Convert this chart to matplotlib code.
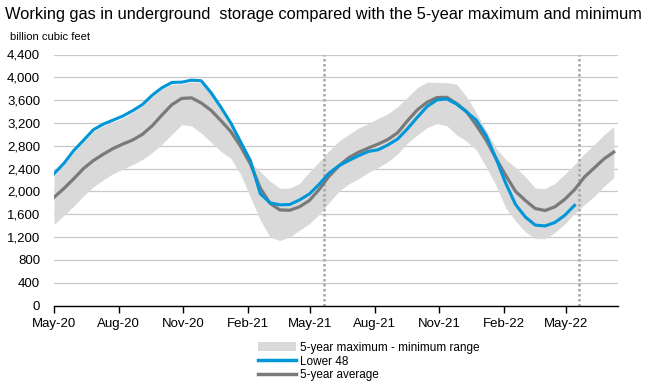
import matplotlib
matplotlib.use('Agg')
import matplotlib.pyplot as plt
import matplotlib.dates as mdates
from matplotlib.patches import Patch
from matplotlib.lines import Line2D
import pandas as pd

plt.rcParams['font.family'] = ['Liberation Sans', 'DejaVu Sans']

# ---- Data (billion cubic feet), biweekly from 1 May 2020 ----
dates = pd.date_range('2020-05-01', periods=58, freq='14D')

lower48 = [2310, 2490, 2714, 2895, 3080, 3178, 3249, 3320, 3414, 3522,
           3686, 3818, 3910, 3915, 3950, 3939, 3728, 3475, 3200, 2870,
           2540, 1960, 1800, 1765, 1770, 1850, 1955, 2125, 2320, 2450,
           2540, 2625, 2700, 2730, 2815, 2920, 3100, 3300, 3490, 3605,
           3620, 3530, 3395, 3250, 2980, 2580, 2140, 1770, 1550, 1410,
           1395, 1455, 1580, 1755]

avg5 = [1895, 2050, 2220, 2400, 2540, 2650, 2750, 2830, 2900, 3000,
        3150, 3340, 3520, 3630, 3640, 3550, 3420, 3240, 3050, 2790,
        2480, 2060, 1790, 1675, 1670, 1730, 1840, 2035, 2265, 2445,
        2590, 2685, 2760, 2830, 2910, 3030, 3240, 3430, 3565, 3645,
        3650, 3540, 3400, 3160, 2900, 2580, 2280, 2000, 1840, 1700,
        1665, 1730, 1860, 2030, 2250, 2410, 2570, 2690]

max5 = [2280, 2460, 2680, 2870, 3050, 3150, 3220, 3280, 3385, 3495,
        3660, 3795, 3880, 3885, 3920, 3905, 3700, 3450, 3170, 2840,
        2510, 2350, 2180, 2055, 2060, 2140, 2340, 2520, 2710, 2880,
        3000, 3110, 3190, 3280, 3360, 3490, 3650, 3820, 3915, 3910,
        3906, 3880, 3660, 3380, 3070, 2760, 2560, 2420, 2255, 2060,
        2050, 2140, 2300, 2470, 2660, 2820, 2990, 3140]

min5 = [1420, 1580, 1740, 1920, 2080, 2200, 2310, 2390, 2470, 2560,
        2680, 2830, 3000, 3170, 3150, 3020, 2860, 2700, 2580, 2300,
        1900, 1500, 1200, 1140, 1200, 1320, 1435, 1600, 1800, 2000,
        2130, 2220, 2330, 2420, 2520, 2660, 2850, 2990, 3120, 3190,
        3150, 2990, 2880, 2730, 2430, 2110, 1710, 1480, 1290, 1175,
        1170, 1280, 1430, 1610, 1770, 1910, 2090, 2240]

marker_dates = ['2021-05-21', '2022-05-20']
tick_dates = pd.date_range('2020-05-01', '2022-05-01', freq='3MS')

C_BLUE = '#0096D7'
C_AVG = '#7A7A7A'
C_BAND = '#D9D9D9'
C_GRID = '#C8C8C8'

fig = plt.figure(figsize=(6.48, 3.85), dpi=100)
ax = fig.add_axes([54 / 648, 1 - 305.5 / 385, 564 / 648, 251 / 385])

ax.fill_between(dates, min5, max5, color=C_BAND, lw=0, zorder=1)
ax.plot(dates, avg5, color=C_AVG, lw=2.3, zorder=3)
ax.plot(dates[:len(lower48)], lower48, color=C_BLUE, lw=2.2, zorder=4)

for d in marker_dates:
    ax.axvline(pd.Timestamp(d), color='#A6A6A6', lw=1.8,
               ls=(0, (1, 1)), zorder=2)

ax.set_ylim(0, 4400)
ax.set_yticks(range(0, 4401, 400))
ax.yaxis.set_major_formatter(matplotlib.ticker.StrMethodFormatter('{x:,.0f}'))
ax.grid(axis='y', color=C_GRID, lw=0.9, zorder=0)
ax.set_axisbelow(True)

ax.set_xlim(pd.Timestamp('2020-05-01'), pd.Timestamp('2022-07-14'))
ax.set_xticks(tick_dates)
ax.xaxis.set_major_formatter(mdates.DateFormatter('%b-%y'))

for s in ['top', 'right', 'left']:
    ax.spines[s].set_visible(False)
ax.spines['bottom'].set_color('black')
ax.spines['bottom'].set_linewidth(1.0)
ax.tick_params(axis='y', length=0, pad=10, labelsize=9.5)
ax.tick_params(axis='x', direction='out', length=5, width=1,
               labelsize=9.5, pad=4)

fig.text(5 / 648, 1 - 14 / 385, 'Working gas in underground  storage compared '
         'with the 5-year maximum and minimum', fontsize=11.8,
         ha='left', va='center')
fig.text(10 / 648, 1 - 37 / 385, 'billion cubic feet', fontsize=8,
         ha='left', va='center')

handles = [Patch(facecolor=C_BAND, edgecolor='none'),
           Line2D([], [], color=C_BLUE, lw=2.5),
           Line2D([], [], color=C_AVG, lw=2.5)]
labels = ['5-year maximum - minimum range', 'Lower 48', '5-year average']
fig.legend(handles, labels, loc='upper left',
           bbox_to_anchor=(252 / 648, 1 - 336 / 385), frameon=False,
           fontsize=8.5, handlelength=3.2, handleheight=0.8,
           labelspacing=0.15, borderpad=0, handletextpad=0.4)

plt.savefig('out.png', dpi=100)
